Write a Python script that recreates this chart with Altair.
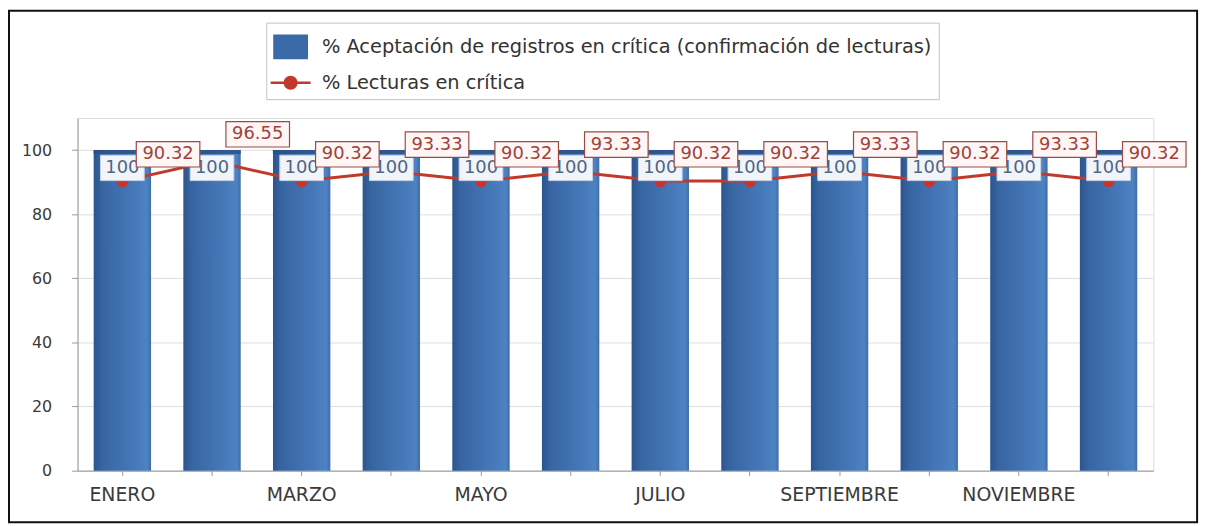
import altair as alt
import pandas as pd

# ---- data ----
meses = ["ENERO", "FEBRERO", "MARZO", "ABRIL", "MAYO", "JUNIO", "JULIO",
         "AGOSTO", "SEPTIEMBRE", "OCTUBRE", "NOVIEMBRE", "DICIEMBRE"]
aceptacion = [100, 100, 100, 100, 100, 100, 100, 100, 100, 100, 100, 100]
lecturas = [90.32, 96.55, 90.32, 93.33, 90.32, 93.33, 90.32, 90.32, 93.33, 90.32, 93.33, 90.32]
etiquetas_x = ["ENERO", "MARZO", "MAYO", "JULIO", "SEPTIEMBRE", "NOVIEMBRE"]
ticks_y = [0, 20, 40, 60, 80, 100]
serie_barra = "% Aceptación de registros en crítica (confirmación de lecturas)"
serie_linea = "% Lecturas en crítica"
series = [serie_barra, serie_linea]

df = pd.DataFrame({"mes": meses, "aceptacion": aceptacion, "lecturas": lecturas})
df_leg = pd.DataFrame({"serie": series, "mes": [meses[0], meses[0]], "valor": [50, 40]})

FONT = "DejaVu Sans"
W, H = 1083, 355

x_enc = alt.X("mes:N", sort=meses,
              scale=alt.Scale(paddingInner=0.36, paddingOuter=0.18),
              axis=alt.Axis(title=None, labelAngle=0, grid=False, tickSize=5,
                            labelPadding=10, labelFont=FONT, labelFontSize=19,
                            labelColor="#3a3a3a", domainColor="#9a9a9a", tickColor="#9a9a9a",
                            labelExpr="indexof(" + str(etiquetas_x) + ", datum.value) >= 0 ? datum.value : ''"))
y_scale = alt.Scale(domain=[0, 110], nice=False)

base = alt.Chart(df)

# legend (dummy points hidden behind the first bar)
rect_path = "M-1,-0.71H1V0.71H-1Z"
line_path = "M-1.15,-0.07H1.15V0.07H-1.15Z M0.4,0A0.4,0.4 0 1,1 -0.4,0A0.4,0.4 0 1,1 0.4,0Z"
leg = alt.Legend(orient="none", legendX=190, legendY=-96, title=None,
                 labelFont=FONT, labelFontSize=19.5, labelColor="#333333",
                 symbolSize=1225, symbolOpacity=1, symbolStrokeWidth=0,
                 labelOffset=14, padding=7, strokeColor="#c4c4c4",
                 fillColor="white", rowPadding=6, labelLimit=0)
legend_layer = alt.Chart(df_leg).mark_point(filled=True, opacity=1, size=400).encode(
    x=x_enc,
    y=alt.Y("valor:Q", scale=y_scale),
    color=alt.Color("serie:N", scale=alt.Scale(domain=series, range=["#3a6aa8", "#c0392b"]), legend=leg),
    shape=alt.Shape("serie:N", scale=alt.Scale(domain=series, range=[rect_path, line_path]), legend=leg),
)

grad = alt.LinearGradient(
    gradient="linear", x1=0, x2=1, y1=0, y2=0,
    stops=[alt.GradientStop(color="#2d558e", offset=0),
           alt.GradientStop(color="#3765a1", offset=0.15),
           alt.GradientStop(color="#4678b8", offset=0.7),
           alt.GradientStop(color="#4d82c3", offset=0.93),
           alt.GradientStop(color="#3f6da9", offset=1)])

bars = base.mark_bar(color=grad).encode(
    x=x_enc,
    y=alt.Y("aceptacion:Q", scale=y_scale,
            axis=alt.Axis(title=None, values=ticks_y, grid=True, tickSize=6,
                          labelPadding=20, labelFont=FONT, labelFontSize=16,
                          labelColor="#3a3a3a", domainColor="#9a9a9a",
                          tickColor="#9a9a9a", gridColor="#dedede")),
)
caps = base.mark_tick(color="#2a4c7c", thickness=4, size=58, yOffset=2).encode(
    x=x_enc, y=alt.Y("aceptacion:Q", scale=y_scale))

line = base.mark_line(color="#c0392b", strokeWidth=3).encode(
    x=x_enc, y=alt.Y("lecturas:Q", scale=y_scale))
points = base.mark_circle(color="#c8342c", size=150, opacity=1).encode(
    x=x_enc, y=alt.Y("lecturas:Q", scale=y_scale))

box100_path = "M-1,-0.58H1V0.58H-1Z"
bar_boxes = base.mark_point(shape=box100_path, size=44 * 44, filled=True, fill="#f1f5fa",
                            stroke="#c5d2e2", strokeWidth=1, opacity=1, yOffset=18).encode(
    x=x_enc, y=alt.Y("aceptacion:Q", scale=y_scale))
bar_text = base.mark_text(font=FONT, fontSize=18, color="#4f6685", yOffset=18,
                          align="center", baseline="middle").encode(
    x=x_enc, y=alt.Y("aceptacion:Q", scale=y_scale), text=alt.Text("aceptacion:Q", format="d"))

boxline_path = "M-1,-0.4H1V0.4H-1Z"
line_boxes = base.mark_point(shape=boxline_path, size=64 * 64, filled=True, fill="#fdf6f4",
                             stroke="#9c4a46", strokeWidth=1.2, opacity=1,
                             xOffset=46, yOffset=-27).encode(
    x=x_enc, y=alt.Y("lecturas:Q", scale=y_scale))
line_text = base.mark_text(font=FONT, fontSize=18, color="#a0423c", xOffset=46, yOffset=-27,
                           align="center", baseline="middle").encode(
    x=x_enc, y=alt.Y("lecturas:Q", scale=y_scale), text=alt.Text("lecturas:Q", format=".2f"))

frame = alt.Chart(alt.Data(values=[{}])).mark_rect(fill=None, stroke="#111111", strokeWidth=2).encode(
    x=alt.value(-69), x2=alt.value(1127), y=alt.value(-108), y2=alt.value(407))

chart = alt.layer(legend_layer, bars, caps, line, points, bar_boxes, bar_text,
                  line_boxes, line_text, frame).properties(
    width=W, height=H,
    autosize=alt.AutoSizeParams(type="none"),
    padding={"left": 70, "top": 109, "right": 58, "bottom": 54},
).configure_view(stroke="#d4d4d4").configure(background="white")

chart.save("out.html", embed_options={"renderer": "svg", "actions": False})
